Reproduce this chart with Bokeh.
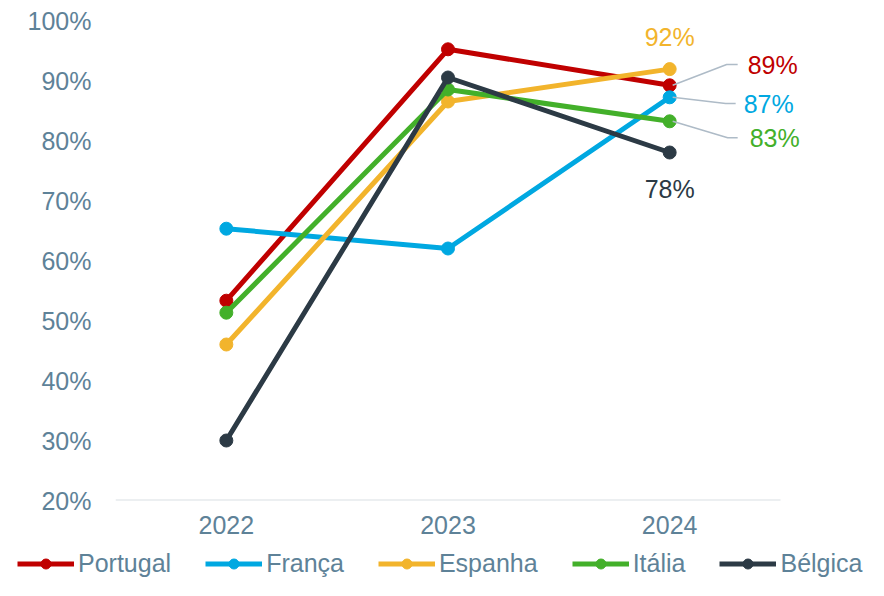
from bokeh.plotting import figure
from bokeh.layouts import column, row
from bokeh.models import (Range1d, FixedTicker, Legend, LegendItem, Label)
from bokeh.embed import file_html
from bokeh.resources import INLINE

# ---- data ----
years = ["2022", "2023", "2024"]
portugal = [53.3, 95.2, 89.2]
franca = [65.3, 62.0, 87.2]
espanha = [46.0, 86.5, 91.9]
italia = [51.3, 88.5, 83.2]
belgica = [30.0, 90.5, 78.0]
series_names = ["Portugal", "França", "Espanha", "Itália", "Bélgica"]
y_ticks = [20, 30, 40, 50, 60, 70, 80, 90, 100]
y_tick_labels = ["20%", "30%", "40%", "50%", "60%", "70%", "80%", "90%", "100%"]
end_labels = ["89%", "87%", "92%", "83%", "78%"]

colors = ["#C00000", "#00A8E1", "#F2B42C", "#43B02A", "#2C3A45"]
TXT = "#5E8298"
FONT = "Liberation Sans"
LEADER = "#AEBBC7"
AXIS = "#D9DFE4"

W = 868
H_MAIN, H_LEG = 548, 32
LEFT, TOP, BOTTOM, RIGHT = 115, 20, 48, 8
frame_w = W - LEFT - RIGHT
unit_px = 665.0 / 3.0          # pixels per category step
x_start = -0.5
x_end = x_start + frame_w / unit_px

p = figure(width=W, height=H_MAIN, output_backend="svg", toolbar_location=None,
           x_range=Range1d(x_start, x_end), y_range=Range1d(20, 100),
           min_border_left=LEFT, min_border_right=RIGHT, min_border_top=TOP,
           min_border_bottom=BOTTOM)
p.outline_line_color = None
p.xgrid.visible = False
p.ygrid.visible = False

xi = list(range(len(years)))

# axes
p.xaxis.ticker = FixedTicker(ticks=xi)
p.xaxis.major_label_overrides = {i: y for i, y in zip(xi, years)}
p.xaxis.axis_line_color = None
p.xaxis.major_tick_line_color = None
p.xaxis.minor_tick_line_color = None
p.xaxis.major_tick_out = 0
p.xaxis.major_tick_in = 0
p.xaxis.major_label_standoff = 15
p.xaxis.major_label_text_font = FONT
p.xaxis.major_label_text_font_size = "25px"
p.xaxis.major_label_text_color = TXT

p.yaxis.ticker = FixedTicker(ticks=y_ticks)
p.yaxis.major_label_overrides = {t: l for t, l in zip(y_ticks, y_tick_labels)}
p.yaxis.axis_line_color = None
p.yaxis.major_tick_line_color = None
p.yaxis.minor_tick_line_color = None
p.yaxis.major_tick_out = 0
p.yaxis.major_tick_in = 0
p.yaxis.major_label_standoff = 24
p.yaxis.major_label_text_font = FONT
p.yaxis.major_label_text_font_size = "25px"
p.yaxis.major_label_text_color = TXT

# baseline (category axis line) spanning the category band only
p.segment(x0=[x_start], y0=[y_ticks[0]], x1=[len(years) - 0.5], y1=[y_ticks[0]],
          line_color=AXIS, line_width=2)

all_series = [portugal, franca, espanha, italia, belgica]
for name, vals, col in zip(series_names, all_series, colors):
    p.line(xi, vals, line_color=col, line_width=5)
    p.scatter(xi, vals, size=13, fill_color=col, line_color=col)

# leader lines (pixel offsets converted to data units)
px_x = 1.0 / unit_px
px_y = 80.0 / 480.0
last = len(years) - 1
leader_specs = [(portugal, 20.8, 57, 68), (franca, -6.2, 56, 66), (italia, -16.5, 58, 68)]
for vals, dy, ex, endx in leader_specs:
    y0 = vals[-1]
    ye = y0 + dy * px_y
    p.line([last + 3 * px_x, last + ex * px_x, last + endx * px_x], [y0, ye, ye],
           line_color=LEADER, line_width=1.5)

# end labels
label_specs = [
    (portugal, end_labels[0], colors[0], 78, 20.5, "left"),
    (franca, end_labels[1], colors[1], 74, -6.2, "left"),
    (espanha, end_labels[2], colors[2], 0, 32.4, "center"),
    (italia, end_labels[3], colors[3], 80, -16.7, "left"),
    (belgica, end_labels[4], colors[4], 0, -36, "center"),
]
for vals, txt, col, dx, dy, align in label_specs:
    p.add_layout(Label(x=last, y=vals[-1], text=txt, x_offset=dx, y_offset=dy,
                       text_align=align, text_baseline="middle",
                       text_color=col, text_font=FONT, text_font_size="25px"))

# ---- legend strip (same series, drawn out of view; only the legend shows) ----
lg = figure(width=W, height=H_LEG, output_backend="svg", toolbar_location=None,
            x_range=Range1d(1000, 1001), y_range=Range1d(1000, 1001),
            x_axis_location=None, y_axis_location=None,
            min_border=0, min_border_left=0, min_border_right=0,
            min_border_top=0, min_border_bottom=0)
lg.outline_line_color = None
lg.xgrid.visible = False
lg.ygrid.visible = False
items = []
for name, vals, col in zip(series_names, all_series, colors):
    r1 = lg.line(xi, vals, line_color=col, line_width=5)
    r2 = lg.scatter(xi, vals, size=11, fill_color=col, line_color=col)
    items.append(LegendItem(label=name, renderers=[r1, r2]))

legend = Legend(items=items, orientation="horizontal", location=(17, 2),
                glyph_width=57, glyph_height=25, label_height=25,
                label_standoff=4, spacing=34, padding=0, margin=0,
                border_line_color=None, background_fill_alpha=0,
                label_text_font=FONT, label_text_font_size="25px",
                label_text_color=TXT)
lg.add_layout(legend, "center")

layout = column(p, row(lg), spacing=0)
open("out.html", "w").write(file_html(layout, INLINE))
